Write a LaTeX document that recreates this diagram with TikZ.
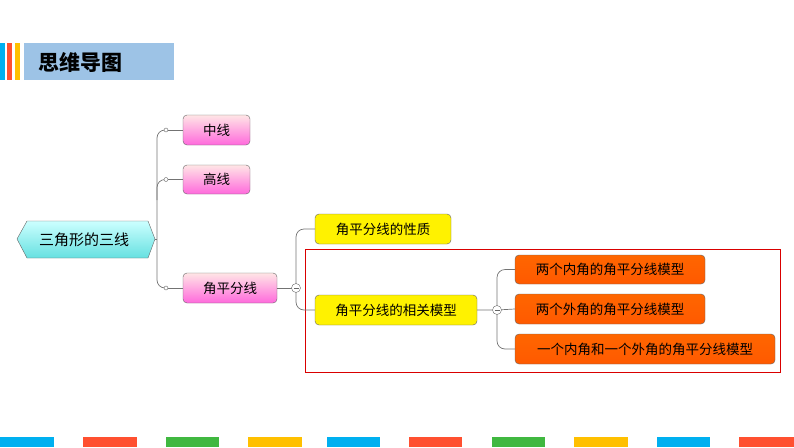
\documentclass[tikz,border=0pt]{standalone}
\usepackage{fontspec}
\newfontfamily\cjk{Noto Sans CJK SC}
\begin{document}
\begin{tikzpicture}[x=1pt,y=-1pt,font=\cjk\fontsize{13.5}{15}\selectfont,
 pinkbox/.style={draw=black!60,rounded corners=4pt,top color=pink!40!white,bottom color=magenta!45!pink,text=black},
 yelbox/.style={draw=black!60,rounded corners=4pt,fill=yellow},
 orbox/.style={draw=black!60,rounded corners=4pt,top color=orange!80!red,bottom color=orange!70!red,text=black},
 conn/.style={draw=black!55,line width=0.7pt,rounded corners=8pt},
 dot/.style={circle,draw=black!60,fill=white,inner sep=0pt,minimum size=4pt},
 minus/.style={circle,draw=black!60,fill=white,inner sep=0pt,minimum size=9pt}]
\useasboundingbox (0,0) rectangle (794,447);
% header
\definecolor{hdr}{HTML}{9DC3E6}
\definecolor{bb}{HTML}{00B0F0}\definecolor{br}{HTML}{FF5030}\definecolor{bg}{HTML}{40B840}\definecolor{by}{HTML}{FFC000}
\fill[bb] (0,43) rectangle (5,80);
\fill[br] (7,43) rectangle (12,80);
\fill[by] (15,43) rectangle (20,80);
\fill[hdr] (24,43) rectangle (174,80);
\node[anchor=west,font=\cjk\fontsize{21}{23}\selectfont\bfseries] (title) at (35,62) {思维导图};
% bottom bars
\foreach \x/\w/\c in {0/54/bb,83/54/br,166/53/bg,248/54/by,327/53/bb,409/53/br,492/53/bg,574/54/by,657/53/bb,739/55/br}
 \fill[\c] (\x,437) rectangle ++(\w,10);
% nodes
\draw[draw=black!60,top color=cyan!20!white,bottom color=teal!40!cyan!60] (17,239) -- (27,221) -- (148,221) -- (155,239) -- (148,258) -- (27,258) -- cycle;
\node[font=\cjk\fontsize{15}{17}\selectfont] (root) at (84,240) {三角形的三线};
\coordinate (rootE) at (155,239);
\node[pinkbox,minimum width=67pt,minimum height=30pt] (zx) at (216.5,130) {中线};
\node[pinkbox,minimum width=67pt,minimum height=29pt] (gx) at (216.5,179.5) {高线};
\node[pinkbox,minimum width=94pt,minimum height=30pt] (jp) at (230,288) {角平分线};
\node[yelbox,minimum width=136pt,minimum height=30pt] (xz) at (383,229) {角平分线的性质};
\node[yelbox,minimum width=162pt,minimum height=30pt] (mx) at (396,310) {角平分线的相关模型};
\node[orbox,minimum width=190pt,minimum height=29pt] (o1) at (610,269.5) {两个内角的角平分线模型};
\node[orbox,minimum width=190pt,minimum height=30pt] (o2) at (610,309) {两个外角的角平分线模型};
\node[orbox,minimum width=260pt,minimum height=30pt] (o3) at (645,349) {一个内角和一个外角的角平分线模型};
\draw[red!85!black,line width=1pt] (305,249) rectangle (780,372);
% connectors
\coordinate (c1) at (166,130); \coordinate (c2) at (166,179.5); \coordinate (c3) at (166,288);
\draw[conn] (rootE) -- (157,239);
\draw[conn] (c1) -- (157,130) -- (157,288) -- (c3);
\draw[conn] (c2) -- (157,179.5) -- (157,200);
\draw[conn] (c1) -- (zx.west); \draw[conn] (c2) -- (gx.west); \draw[conn] (c3) -- (jp.west);
\node[dot] at (c1) {}; \node[dot] at (c2) {}; \node[dot] at (c3) {};
\coordinate (j1) at (296,288);
\draw[conn] (jp.east) -- (j1);
\draw[conn] (xz.west) -- (296,229) -- (296,310) -- (mx.west);
\node[minus] (m1) at (j1) {}; \draw[black!60] (293.5,288) -- (298.5,288);
\coordinate (j2) at (497,310);
\draw[conn] (mx.east) -- (j2) -- (o2.west);
\draw[conn] (o1.west) -- (497,269.5) -- (497,349) -- (o3.west);
\node[minus] (m2) at (j2) {}; \draw[black!60] (494.5,310) -- (499.5,310);
\end{tikzpicture}
\end{document}
